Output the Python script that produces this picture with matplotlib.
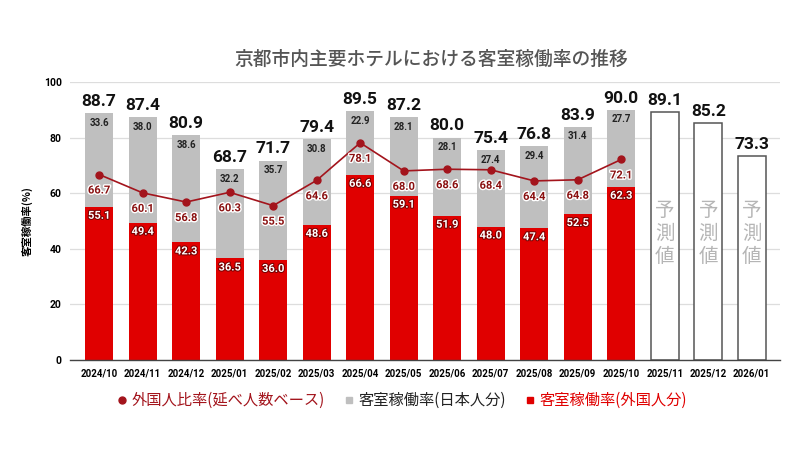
import matplotlib
matplotlib.use("Agg")
import matplotlib.pyplot as plt
import matplotlib.patheffects as pe
from matplotlib.lines import Line2D
import numpy as np

plt.rcParams['font.family'] = ['Noto Sans CJK JP', 'DejaVu Sans']

months = ["2024/10", "2024/11", "2024/12", "2025/01", "2025/02", "2025/03", "2025/04",
          "2025/05", "2025/06", "2025/07", "2025/08", "2025/09", "2025/10",
          "2025/11", "2025/12", "2026/01"]
total = [88.7, 87.4, 80.9, 68.7, 71.7, 79.4, 89.5, 87.2, 80.0, 75.4, 76.8, 83.9, 90.0,
         89.1, 85.2, 73.3]
japanese = [33.6, 38.0, 38.6, 32.2, 35.7, 30.8, 22.9, 28.1, 28.1, 27.4, 29.4, 31.4, 27.7]
foreign = [55.1, 49.4, 42.3, 36.5, 36.0, 48.6, 66.6, 59.1, 51.9, 48.0, 47.4, 52.5, 62.3]
ratio = [66.7, 60.1, 56.8, 60.3, 55.5, 64.6, 78.1, 68.0, 68.6, 68.4, 64.4, 64.8, 72.1]
forecast_text = "予測値"

RED = "#e00000"
GRAY = "#bfbfbf"
DARKRED = "#a3141c"

fig = plt.figure(figsize=(8, 4.5), dpi=100)
ax = fig.add_axes([0.0875, 0.2, 0.8875, 0.618])

n_act = len(foreign)
x = np.arange(len(months))
xa = x[:n_act]
xf = x[n_act:]
w = 0.64

ax.bar(xa, foreign, width=w, color=RED, zorder=2)
ax.bar(xa, japanese, width=w, bottom=foreign, color=GRAY, zorder=2)
ax.bar(xf, total[n_act:], width=w, facecolor="white", edgecolor="#555555",
       linewidth=1.1, zorder=2)

ax.plot(xa, ratio, color=DARKRED, lw=1.2, marker="o", ms=5, zorder=4)

num_font = ['Roboto', 'DejaVu Sans']
for i in range(len(months)):
    ax.annotate(f"{total[i]:.1f}", (x[i], total[i]), xytext=(0, 3),
                textcoords="offset points", ha="center", va="bottom",
                fontsize=12.5, fontweight="bold", family=num_font, color="#111111", zorder=6)
for i in range(n_act):
    ax.annotate(f"{japanese[i]:.1f}", (x[i], total[i]), xytext=(0, -7),
                textcoords="offset points", ha="center", va="center",
                fontsize=7, fontweight="bold", family=num_font, color="#222222", zorder=5)
    ax.annotate(f"{foreign[i]:.1f}", (x[i], foreign[i]), xytext=(0, -6.5),
                textcoords="offset points", ha="center", va="center",
                fontsize=8, fontweight="bold", family=num_font, color="white", zorder=5,
                path_effects=[pe.withStroke(linewidth=1.5, foreground="#7a0000")])
    ax.annotate(f"{ratio[i]:.1f}", (x[i], ratio[i]), xytext=(0, -11.5),
                textcoords="offset points", ha="center", va="center",
                fontsize=8, fontweight="bold", family=num_font, color="#8a1010", zorder=5,
                path_effects=[pe.withStroke(linewidth=2, foreground="white")])
for xi in xf:
    ax.text(xi, 45.5, "\n".join(forecast_text), ha="center", va="center",
            fontsize=14, color="#b5b5b5", linespacing=1.1, zorder=5)

ax.set_xlim(-0.67, 15.65)
ax.set_ylim(0, 100)
ax.set_yticks([0, 20, 40, 60, 80, 100])
ax.set_xticks(x)
ax.set_xticklabels(months)
for lab in ax.get_xticklabels():
    lab.set_family(num_font)
    lab.set_fontweight("bold")
    lab.set_fontsize(7)
for lab in ax.get_yticklabels():
    lab.set_family(num_font)
    lab.set_fontweight("bold")
    lab.set_fontsize(7.5)
ax.tick_params(axis="both", length=0, pad=6)
ax.grid(axis="y", color="#dddddd", lw=0.9, zorder=0)
ax.set_axisbelow(True)
for s in ["top", "right", "left"]:
    ax.spines[s].set_visible(False)
ax.spines["bottom"].set_color("#444444")
ax.spines["bottom"].set_linewidth(1.0)

ax.set_ylabel("客室稼働率(%)", fontsize=7.5, fontweight="bold", labelpad=8)

fig.text(0.539, 0.868, "京都市内主要ホテルにおける客室稼働率の推移", ha="center", va="center",
         fontsize=13.5, fontweight="medium", color="#555555")

handles = [Line2D([0], [0], marker="o", color="none", markerfacecolor=DARKRED,
                  markeredgecolor=DARKRED, markersize=5),
           Line2D([0], [0], marker="s", color="none", markerfacecolor=GRAY,
                  markeredgecolor=GRAY, markersize=5),
           Line2D([0], [0], marker="s", color="none", markerfacecolor=RED,
                  markeredgecolor=RED, markersize=5)]
labels = ["外国人比率(延べ人数ベース)", "客室稼働率(日本人分)", "客室稼働率(外国人分)"]
leg = fig.legend(handles, labels, loc="center", bbox_to_anchor=(0.503, 0.11), ncol=3,
                 frameon=False, fontsize=11, handlelength=0.6, handletextpad=0.3,
                 columnspacing=1.3)
for t, c in zip(leg.get_texts(), [DARKRED, "#222222", RED]):
    t.set_color(c)

fig.savefig("out.png", dpi=100)
